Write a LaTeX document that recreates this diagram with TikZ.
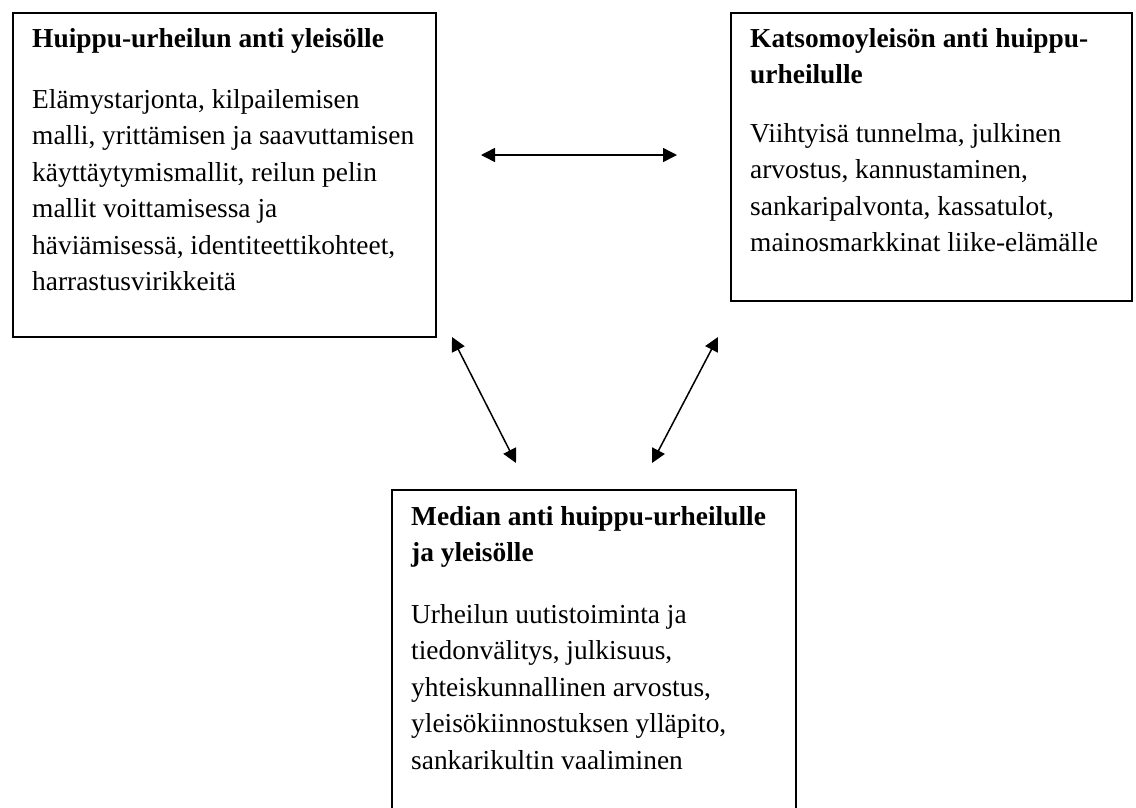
\documentclass[tikz,border=0pt]{standalone}
\usepackage{fontspec}
\setmainfont{Liberation Serif}
\usetikzlibrary{arrows.meta}
\begin{document}
\begin{tikzpicture}[x=1pt,y=-1pt,
  box/.style={draw=black, line width=1.6pt, inner sep=0pt, anchor=north west},
  ttl/.style={font=\fontsize{27.4}{36.5}\selectfont\bfseries, anchor=base west, inner sep=0pt},
  bdy/.style={font=\fontsize{27.4}{36.5}\selectfont, anchor=base west, inner sep=0pt},
  dbl/.style={line width=1.5pt, {Triangle[length=14pt,width=14pt]}-{Triangle[length=14pt,width=14pt]}}]
\useasboundingbox (0,0) rectangle (1136,807);
\clip (0,0) rectangle (1136,807);
\fill[white] (0,0) rectangle (1136,807);

% boxes
\node[box, minimum width=423pt, minimum height=324pt] (B1) at (12,12) {};
\node[box, minimum width=401pt, minimum height=288pt] (B2) at (730,12) {};
\node[box, minimum width=404pt, minimum height=340pt] (B3) at (391,489) {};

% box 1 text
\node[ttl] (h1) at (32,47) {Huippu-urheilun anti yleisölle};
\foreach \t [count=\i from 0] in {{Elämystarjonta, kilpailemisen},{malli, yrittämisen ja saavuttamisen},{käyttäytymismallit, reilun pelin},{mallit voittamisessa ja},{häviämisessä, identiteettikohteet,},{harrastusvirikkeitä}}
  \node[bdy] (p1-\i) at (32,108+36.5*\i) {\t};

% box 2 text
\node[ttl] (h2a) at (750,47) {Katsomoyleisön anti huippu-};
\node[ttl] (h2b) at (750,83.5) {urheilulle};
\foreach \t [count=\i from 0] in {{Viihtyisä tunnelma, julkinen},{arvostus, kannustaminen,},{sankaripalvonta, kassatulot,},{mainosmarkkinat liike-elämälle}}
  \node[bdy] (p2-\i) at (750,142+36.5*\i) {\t};

% box 3 text
\node[ttl] (h3a) at (411,525) {Median anti huippu-urheilulle};
\node[ttl] (h3b) at (411,561.5) {ja yleisölle};
\foreach \t [count=\i from 0] in {{Urheilun uutistoiminta ja},{tiedonvälitys, julkisuus,},{yhteiskunnallinen arvostus,},{yleisökiinnostuksen ylläpito,},{sankarikultin vaaliminen}}
  \node[bdy] (p3-\i) at (411,623+36.5*\i) {\t};

% arrow end points
\coordinate (a1) at (481,155);
\coordinate (a2) at (677,155);
\coordinate (l1) at (452,337);
\coordinate (l2) at (516,463);
\coordinate (r1) at (718,337);
\coordinate (r2) at (652,463);

\draw[dbl] (a1) -- (a2);
\draw[dbl] (l1) -- (l2);
\draw[dbl] (r1) -- (r2);
\end{tikzpicture}
\end{document}
